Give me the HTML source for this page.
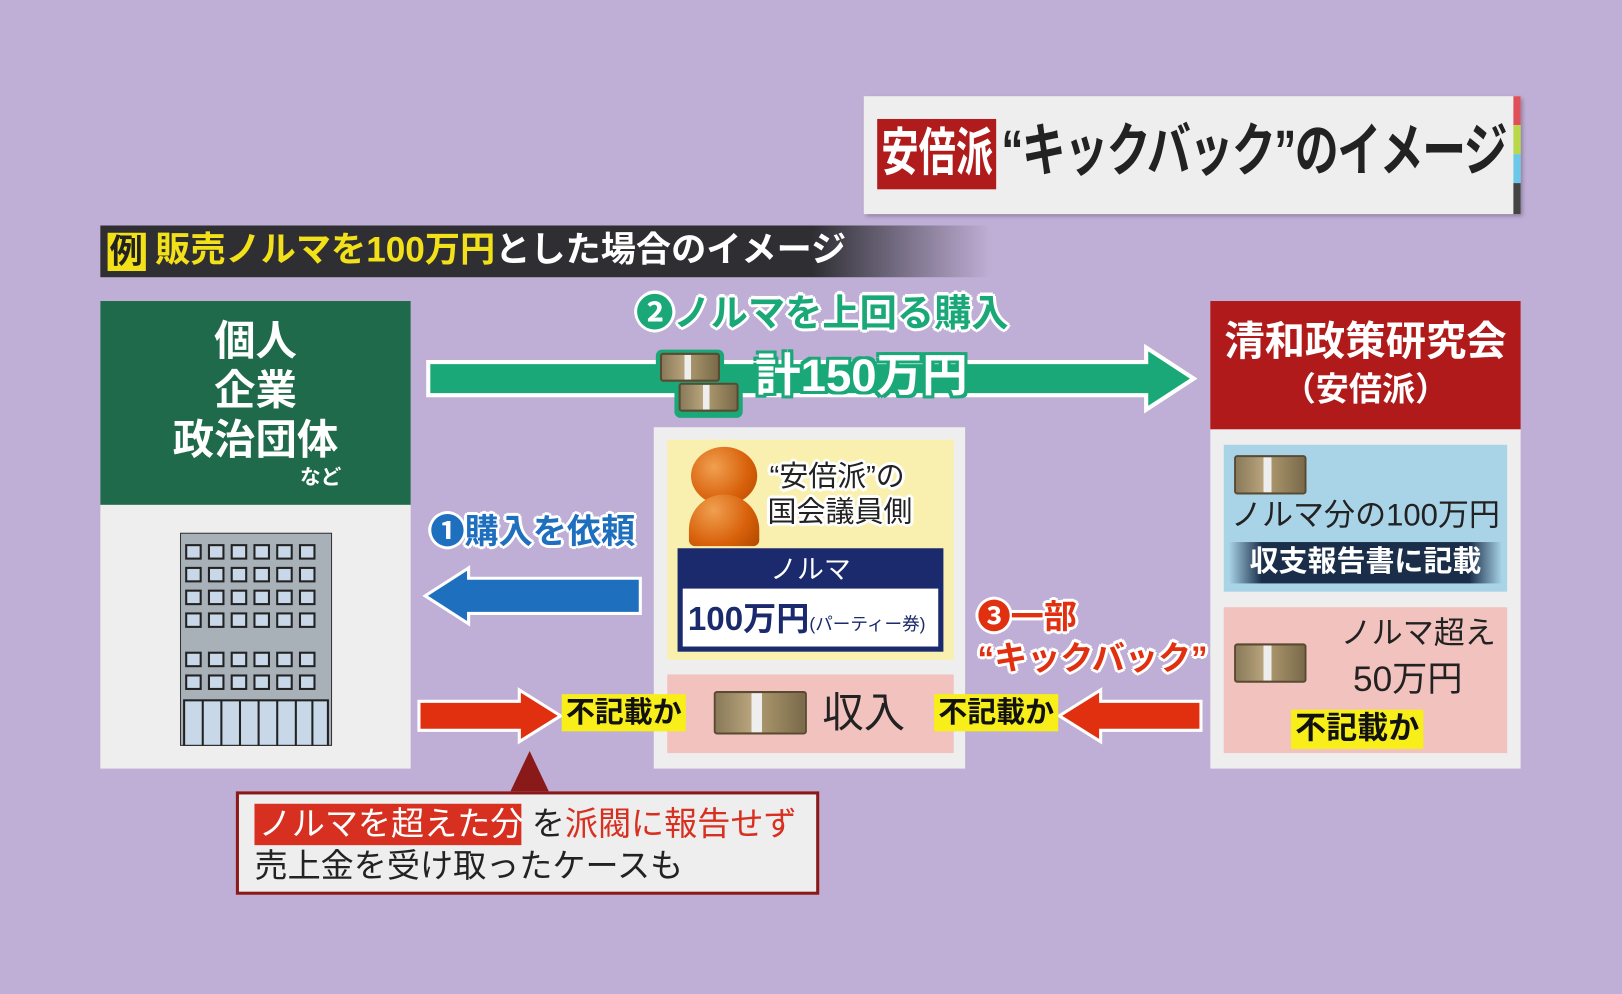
<!DOCTYPE html>
<html><head><meta charset="utf-8">
<style>
*{margin:0;padding:0;box-sizing:border-box}
body{width:1622px;height:994px;overflow:hidden;background:#bfaed5;font-family:"Liberation Sans","Noto Sans CJK JP",sans-serif;font-weight:bold}
#w{position:absolute;left:0;top:0;width:1568px;height:961px;transform:scale(1.03444);transform-origin:0 0;background:#bfaed5}
.a{position:absolute}
.t{position:absolute;white-space:nowrap;line-height:1}
.money{position:absolute;width:70px;height:38px;background:linear-gradient(90deg,#8a7a5a 0,#b8a47c 40%,#eee 40%,#eee 52%,#a8946a 52%,#7a6a4a 100%);border:2px solid #5a4a30;border-radius:3px}
.wo{text-shadow:2px 2px 0 #fff,-2px -2px 0 #fff,2px -2px 0 #fff,-2px 2px 0 #fff,0 3px 0 #fff,3px 0 0 #fff,0 -3px 0 #fff,-3px 0 0 #fff}
.yl{position:absolute;background:#f7ee1a;color:#111;font-size:28px;padding:4px 4px;line-height:1}
</style></head><body><div id="w">
<!-- title -->
<div class="a" style="left:835px;top:93px;width:635px;height:114px;background:#eeeeee;box-shadow:2px 2px 4px rgba(0,0,0,.3)"></div>
<div class="a" style="left:1463px;top:93px;width:7px;height:28px;background:#e0505a"></div>
<div class="a" style="left:1463px;top:121px;width:7px;height:28px;background:#b8d84a"></div>
<div class="a" style="left:1463px;top:149px;width:7px;height:28px;background:#6cc8e8"></div>
<div class="a" style="left:1463px;top:177px;width:7px;height:30px;background:#444"></div>
<div class="a" style="left:848px;top:115px;width:115px;height:68px;background:#b01c1c"></div>
<div class="t" style="left:852px;top:123px;font-size:50px;color:#fff;transform:scaleX(0.72);transform-origin:0 0">安倍派</div>
<div class="t" style="left:968px;top:118px;font-size:56px;color:#222;letter-spacing:-2px;transform:scaleX(0.76);transform-origin:0 0">“キックバック”のイメージ</div>
<!-- subtitle -->
<div class="a" style="left:97px;top:218px;width:860px;height:50px;background:linear-gradient(90deg,#2e2e33 0,#2e2e33 80%,rgba(46,46,51,0) 100%)"></div>
<div class="a" style="left:104px;top:225px;width:37px;height:37px;background:#f2e018"></div>
<div class="t" style="left:106px;top:227px;font-size:32px;color:#222">例</div>
<div class="t" style="left:150px;top:225px;font-size:34px;color:#f2e018">販売ノルマを100万円<span style="color:#fff">とした場合のイメージ</span></div>
<!-- left panel -->
<div class="a" style="left:97px;top:291px;width:300px;height:452px;background:#eeeeee"></div>
<div class="a" style="left:97px;top:291px;width:300px;height:197px;background:#1e6a4a"></div>
<div class="t" style="left:97px;top:306px;width:300px;text-align:center;font-size:40px;color:#fff;line-height:48px">個人<br>企業<br>政治団体</div>
<div class="t" style="left:290px;top:452px;font-size:20px;color:#fff">など</div>
<svg class="a" style="left:174px;top:515px" width="147" height="206">
<rect x="0" y="0" width="147" height="206" fill="#a8b0b8" stroke="#333" stroke-width="2"/>
<g fill="#c8d8e8" stroke="#222" stroke-width="2">
<g id="r"><rect x="6" y="12" width="14" height="13"/><rect x="28" y="12" width="14" height="13"/><rect x="50" y="12" width="14" height="13"/><rect x="72" y="12" width="14" height="13"/><rect x="94" y="12" width="14" height="13"/><rect x="116" y="12" width="14" height="13"/></g>
<use href="#r" y="22"/><use href="#r" y="44"/><use href="#r" y="66"/><use href="#r" y="104"/><use href="#r" y="126"/>
</g>
<rect x="4" y="162" width="139" height="44" fill="#c8d8e8" stroke="#222" stroke-width="2"/>
<g stroke="#222" stroke-width="2"><line x1="22" y1="162" x2="22" y2="206"/><line x1="40" y1="162" x2="40" y2="206"/><line x1="58" y1="162" x2="58" y2="206"/><line x1="76" y1="162" x2="76" y2="206"/><line x1="94" y1="162" x2="94" y2="206"/><line x1="112" y1="162" x2="112" y2="206"/><line x1="128" y1="162" x2="128" y2="206"/></g>
</svg>
<!-- right panel -->
<div class="a" style="left:1170px;top:291px;width:300px;height:452px;background:#eeeeee"></div>
<div class="a" style="left:1170px;top:291px;width:300px;height:124px;background:#b01a1a"></div>
<div class="t" style="left:1170px;top:311px;width:300px;text-align:center;font-size:39px;color:#fff">清和政策研究会</div>
<div class="t" style="left:1170px;top:360px;width:300px;text-align:center;font-size:32px;color:#fff">（安倍派）</div>
<div class="a" style="left:1183px;top:430px;width:274px;height:142px;background:#a9d4e8"></div>
<div class="money" style="left:1193px;top:440px"></div>
<div class="t" style="left:1183px;top:484px;width:274px;text-align:center;font-size:30px;color:#222;font-weight:normal">ノルマ分の100万円</div>
<div class="a" style="left:1188px;top:524px;width:264px;height:40px;background:linear-gradient(90deg,#a9d4e8 0,#1a2e4a 12%,#1a2e4a 88%,#a9d4e8 100%)"></div>
<div class="t" style="left:1183px;top:529px;width:274px;text-align:center;font-size:28px;color:#fff">収支報告書に記載</div>
<div class="a" style="left:1183px;top:587px;width:274px;height:141px;background:#f2c2be"></div>
<div class="money" style="left:1193px;top:622px"></div>
<div class="t" style="left:1296px;top:598px;font-size:30px;color:#222;font-weight:normal">ノルマ超え</div>
<div class="t" style="left:1308px;top:640px;font-size:34px;color:#222;font-weight:normal">50万円</div>
<div class="yl" style="left:1248px;top:686px;font-size:30px">不記載か</div>
<!-- middle panel -->
<div class="a" style="left:632px;top:413px;width:301px;height:330px;background:#eeeeee"></div>
<div class="a" style="left:645px;top:425px;width:277px;height:213px;background:#f9f0b0"></div>
<div class="a" style="left:668px;top:432px;width:64px;height:56px;border-radius:50%;background:radial-gradient(circle at 35% 35%,#f0a050,#d8600a 60%,#b04800)"></div>
<div class="a" style="left:666px;top:478px;width:68px;height:50px;border-radius:34px 34px 6px 6px;background:radial-gradient(circle at 35% 30%,#f0a050,#d8600a 60%,#b04800)"></div>
<div class="t wo" style="left:744px;top:447px;font-size:28px;color:#222;font-weight:normal">“安倍派”の</div>
<div class="t wo" style="left:742px;top:481px;font-size:28px;color:#222;font-weight:normal">国会議員側</div>
<div class="a" style="left:655px;top:530px;width:257px;height:100px;background:#1a2a6c"></div>
<div class="t" style="left:655px;top:537px;width:257px;text-align:center;font-size:26px;color:#fff;font-weight:normal">ノルマ</div>
<div class="a" style="left:660px;top:569px;width:247px;height:56px;background:#fff"></div>
<div class="t" style="left:665px;top:582px;font-size:32px;color:#1a2a6c">100万円<span style="font-size:17px;font-weight:normal">(パーティー券)</span></div>
<div class="a" style="left:645px;top:652px;width:277px;height:76px;background:#f2c2be"></div>
<div class="money" style="left:690px;top:668px;width:90px;height:42px"></div>
<div class="t" style="left:795px;top:670px;font-size:40px;color:#222;font-weight:normal">収入</div>
<!-- green arrow -->
<svg class="a" style="left:410px;top:330px" width="750" height="72"><polygon points="4,20 698,20 698,6 744,36 698,66 698,52 4,52" fill="#1aa878" stroke="#fff" stroke-width="4"/></svg>
<div class="t wo" style="left:615px;top:285px;font-size:36px;color:#1aa878">❷ノルマを上回る購入</div>
<div class="a" style="left:634px;top:338px;width:66px;height:36px;background:#1aa878;border-radius:6px"></div>
<div class="a" style="left:652px;top:366px;width:66px;height:38px;background:#1aa878;border-radius:6px"></div>
<div class="money" style="left:638px;top:341px;width:58px;height:28px"></div>
<div class="money" style="left:656px;top:370px;width:58px;height:28px"></div>
<div class="t" style="left:730px;top:342px;font-size:44px;color:#fff;text-shadow:3px 3px 0 #1aa878,-3px -3px 0 #1aa878,3px -3px 0 #1aa878,-3px 3px 0 #1aa878,0 3px 0 #1aa878,3px 0 0 #1aa878">計150万円</div>
<!-- blue arrow -->
<div class="t wo" style="left:416px;top:497px;font-size:33px;color:#1f6fbf">❶購入を依頼</div>
<svg class="a" style="left:405px;top:545px" width="218" height="62"><polygon points="214,14 48,14 48,4 6,31 48,58 48,48 214,48" fill="#1f6fbf" stroke="#fff" stroke-width="3"/></svg>
<!-- red arrows -->
<svg class="a" style="left:402px;top:664px" width="145" height="56"><polygon points="3,14 100,14 100,3 140,28 100,53 100,42 3,42" fill="#e03010" stroke="#fff" stroke-width="3"/></svg>
<svg class="a" style="left:1020px;top:664px" width="145" height="56"><polygon points="141,14 44,14 44,3 4,28 44,53 44,42 141,42" fill="#e03010" stroke="#fff" stroke-width="3"/></svg>
<div class="yl" style="left:543px;top:671px">不記載か</div>
<div class="yl" style="left:903px;top:671px">不記載か</div>
<div class="t wo" style="left:945px;top:580px;font-size:32px;color:#e03010">❸一部</div>
<div class="t wo" style="left:945px;top:620px;font-size:32px;color:#e03010">“キックバック”</div>
<!-- callout -->
<svg class="a" style="left:492px;top:726px" width="40" height="42"><polygon points="20,0 40,42 0,42" fill="#8a1a1a"/></svg>
<div class="a" style="left:228px;top:765px;width:564px;height:100px;background:#eeeeee;border:3px solid #8a1a1a"></div>
<div class="a" style="left:246px;top:777px;width:258px;height:40px;background:#d83020"></div>
<div class="t" style="left:250px;top:780px;font-size:32px;color:#fff;font-weight:normal">ノルマを超えた分<span style="color:#222;margin-left:8px">を</span><span style="color:#d83020">派閥に報告せず</span></div>
<div class="t" style="left:246px;top:821px;font-size:32px;color:#222;font-weight:normal">売上金を受け取ったケースも</div>
</div></body></html>
